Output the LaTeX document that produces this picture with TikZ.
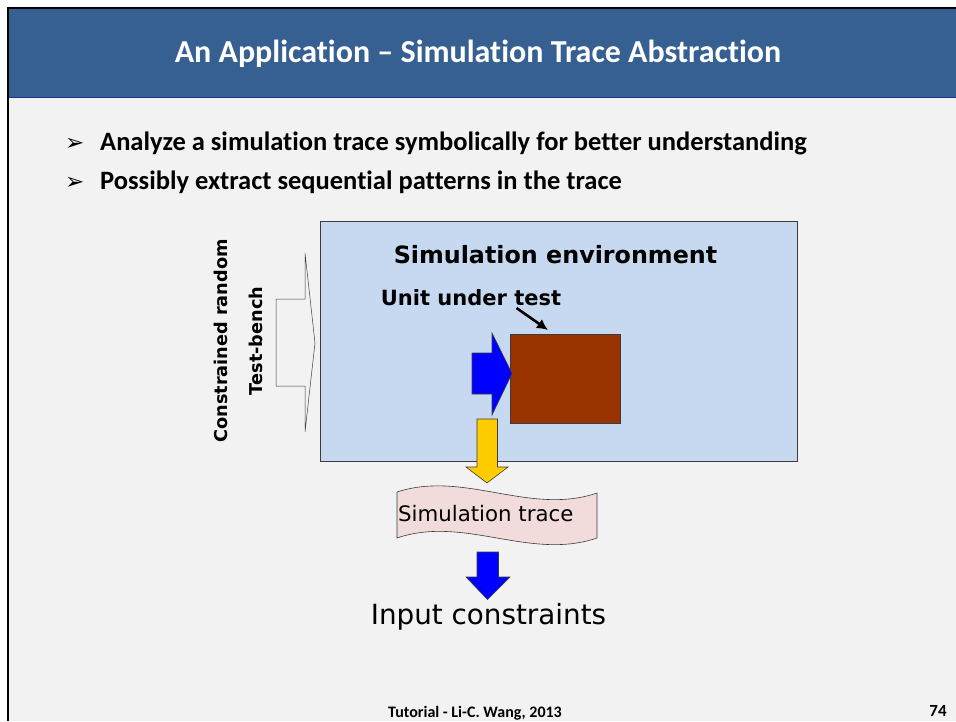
\documentclass[tikz,border=0pt]{standalone}
\usepackage{fontspec}
\setmainfont[Ligatures={NoCommon}]{Carlito}
\newfontfamily\dvs{DejaVu Sans}
\usetikzlibrary{arrows.meta}
\definecolor{hdrblue}{RGB}{55,96,146}
\definecolor{hdrline}{RGB}{30,50,150}
\definecolor{slidebg}{RGB}{242,242,242}
\definecolor{envfill}{RGB}{198,217,240}
\definecolor{uutfill}{RGB}{153,51,0}
\definecolor{tracefill}{RGB}{242,220,219}
\definecolor{arrowyellow}{RGB}{255,204,0}
\definecolor{edgegray}{RGB}{60,60,60}
\tikzset{
  bullettext/.style={anchor=base west, font=\bfseries\fontsize{26.5}{30}\selectfont, inner sep=0},
  bulletmark/.style={anchor=base west, font=\dvs\fontsize{23}{26}\selectfont, inner sep=0},
  blockarrow/.style={draw=edgegray, line width=0.6pt, line join=miter},
  sidelabel/.style={rotate=90, font=\dvs\bfseries\fontsize{17.7}{21}\selectfont},
}
\begin{document}
\begin{tikzpicture}[x=1pt,y=-1pt]
\useasboundingbox (0,0) rectangle (956,721);
% slide frame
\fill[white] (0,0) rectangle (956,721);
\fill[slidebg] (8,8) rectangle (956,721);
\fill[hdrblue] (8,8) rectangle (956,97);
\draw[hdrline, line width=1pt] (9,97) -- (956,97);
\draw[black, line width=2.6pt] (6.7,8) -- (956,8);
\draw[black, line width=2.6pt] (8,6.7) -- (8,721);

% title
\node[font=\bfseries\fontsize{32}{38}\selectfont, text=white] (title) at (478,53.5) {An Application – Simulation Trace Abstraction};

% bullets
\node[bulletmark] (b1m) at (65,150) {➢};
\node[bullettext] (b1) at (100,150) {Analyze a simulation trace symbolically for better understanding};
\node[bulletmark] (b2m) at (65,189) {➢};
\node[bullettext] (b2) at (100,189) {Possibly extract sequential patterns in the trace};

% simulation environment
\node[draw=edgegray, fill=envfill, line width=0.8pt, minimum width=477pt, minimum height=240pt, inner sep=0] (env) at (558.5,341) {};
\node[font=\dvs\bfseries\fontsize{23.8}{28}\selectfont] (envlabel) at (555.5,255) {Simulation environment};
\node[font=\dvs\bfseries\fontsize{21}{25}\selectfont] (uutlabel) at (471,298) {Unit under test};

% unit under test
\node[draw=edgegray, fill=uutfill, line width=0.8pt, minimum width=110pt, minimum height=89pt, inner sep=0] (uut) at (565,378.5) {};
\coordinate (uutarrowtip) at (548,330);
\draw[line width=2.6pt, -{Latex[length=11pt,width=11pt]}] (516.5,308) -- (uutarrowtip);

% stimulus arrow into the unit
\draw[blockarrow, fill=blue] (472,353) -- (492,353) -- (492,333) -- (512,373.5) -- (492,415) -- (492,394) -- (472,394) -- cycle;

% testbench arrow
\draw[blockarrow, fill=slidebg, line width=0.5pt] (276,299) -- (305,299) -- (305,253) -- (315,343) -- (305,432) -- (305,386) -- (276,386) -- cycle;
\node[sidelabel] (tb1) at (221,341) {Constrained random};
\node[sidelabel] (tb2) at (256,341) {Test-bench};

% trace output arrow
\draw[blockarrow, fill=arrowyellow] (477,419) -- (497.5,419) -- (497.5,467) -- (508,467) -- (487,483) -- (466,467) -- (477,467) -- cycle;

% simulation trace (wave shape)
\draw[draw=edgegray, fill=tracefill, line width=0.6pt]
  (397,492) .. controls (464,470) and (530,516) .. (597,493)
  -- (597,538) .. controls (530,561) and (464,515) .. (397,538) -- cycle;
\node[anchor=west, font=\dvs\fontsize{21.3}{25}\selectfont, inner sep=0] (trace) at (398,514) {Simulation trace};

% abstraction arrow
\draw[blockarrow, fill=blue] (477,552) -- (498.5,552) -- (498.5,577) -- (510,577) -- (487.5,599.5) -- (466,577) -- (477,577) -- cycle;
\node[font=\dvs\fontsize{27.8}{32}\selectfont] (result) at (488.5,617) {Input constraints};

% footer
\node[font=\bfseries\fontsize{16}{19}\selectfont] (footer) at (475,713) {Tutorial - Li-C. Wang, 2013};
\node[font=\bfseries\fontsize{17}{20}\selectfont] (pageno) at (938,711) {74};
\end{tikzpicture}
\end{document}
